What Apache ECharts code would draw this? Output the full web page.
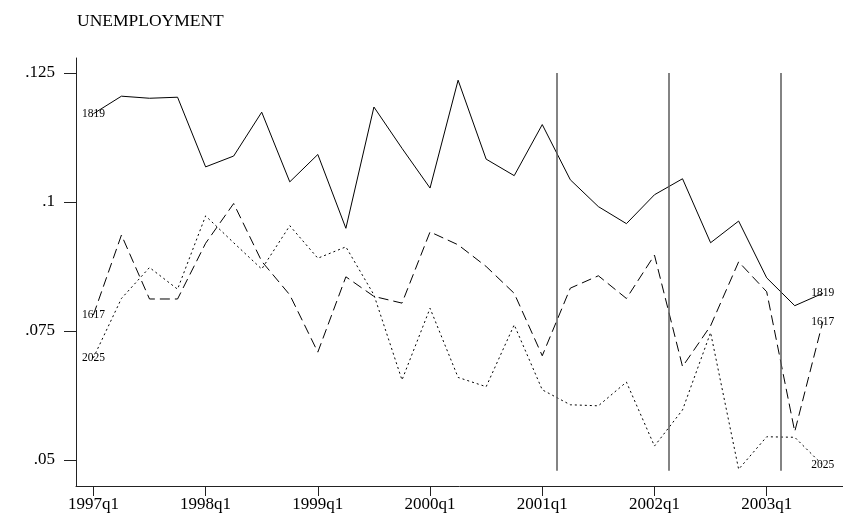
<!DOCTYPE html>
<html>
<head>
<meta charset="utf-8">
<script src="https://cdn.jsdelivr.net/npm/echarts@6/dist/echarts.min.js"></script>
<style>
  html, body { margin: 0; padding: 0; background: #fff; }
  #chart { width: 843px; height: 520px; }
</style>
</head>
<body>
<div id="chart"></div>
<script>
// Quarterly periods on the x axis (index 0 = 1997q1)
const quarters = [
  '1997q1','1997q2','1997q3','1997q4',
  '1998q1','1998q2','1998q3','1998q4',
  '1999q1','1999q2','1999q3','1999q4',
  '2000q1','2000q2','2000q3','2000q4',
  '2001q1','2001q2','2001q3','2001q4',
  '2002q1','2002q2','2002q3','2002q4',
  '2003q1','2003q2','2003q3'
];

// Unemployment rate by age group
const u1819 = [0.1171,0.1205,0.1201,0.1203,0.1068,0.1089,0.1174,0.1039,0.1092,0.0949,
               0.1184,0.1104,0.1027,0.1236,0.1083,0.1051,0.1150,0.1043,0.0991,0.0958,
               0.1014,0.1045,0.0921,0.0963,0.0853,0.0799,0.0823];
const u1617 = [0.0781,0.0936,0.0812,0.0812,0.0920,0.0997,0.0885,0.0820,0.0709,0.0855,
               0.0817,0.0804,0.0942,0.0917,0.0875,0.0823,0.0702,0.0833,0.0857,0.0813,
               0.0897,0.0681,0.0760,0.0884,0.0826,0.0555,0.0768];
const u2025 = [0.0698,0.0813,0.0873,0.0831,0.0973,0.0921,0.0870,0.0954,0.0891,0.0913,
               0.0820,0.0655,0.0794,0.0660,0.0642,0.0762,0.0636,0.0607,0.0605,0.0651,
               0.0527,0.0597,0.0747,0.0482,0.0545,0.0544,0.0490];

// Axis ticks
const xTickIndex = [0, 4, 8, 12, 16, 20, 24];
const yTickValues = [0.05, 0.075, 0.1, 0.125];
const yTickLabels = ['.05', '.075', '.1', '.125'];

// Reference lines between quarters, and their vertical extent
const refLinePos = [16.5, 20.5, 24.5];
const refLineRange = [0.0479, 0.125];

const FONT = '"Liberation Serif", "Times New Roman", serif';

function withEndLabels(values) {
  const last = values.length - 1;
  return values.map((v, i) => {
    const item = { value: [i, v] };
    if (i === 0 || i === last) {
      item.label = { show: true };
    }
    return item;
  });
}

function lineSeries(name, values, dash) {
  return {
    name: name,
    type: 'line',
    data: withEndLabels(values),
    symbol: 'circle',
    symbolSize: 0,
    showSymbol: true,
    silent: true,
    animation: false,
    lineStyle: { color: '#000', width: 1, type: dash },
    itemStyle: { color: '#000' },
    label: {
      show: false,
      position: 'inside',
      formatter: name,
      fontFamily: FONT,
      fontSize: 11.5,
      color: '#000'
    },
    labelLayout: { hideOverlap: false }
  };
}

const chart = echarts.init(document.getElementById('chart'), null, { renderer: 'canvas' });

const refLineSeries = {
  type: 'line',
  silent: true,
  animation: false,
  data: [],
  markLine: {
    silent: true,
    symbol: ['none', 'none'],
    label: { show: false },
    lineStyle: { color: '#5a5a5a', width: 1.5, type: 'solid' },
    data: refLinePos.map(x => [
      { coord: [x, refLineRange[0]] },
      { coord: [x, refLineRange[1]] }
    ])
  }
};

chart.setOption({
  backgroundColor: '#fff',
  animation: false,
  title: {
    text: 'UNEMPLOYMENT',
    left: 77,
    top: 12,
    padding: 0,
    textStyle: { fontFamily: FONT, fontSize: 17.5, fontWeight: 'normal', color: '#000' }
  },
  grid: {
    left: 76, right: 0, top: 58, bottom: 34,
    containLabel: false,
    outerBoundsMode: 'none'
  },
  xAxis: {
    type: 'value',
    min: -0.62,
    max: 26.72,
    splitLine: { show: false },
    axisLine: { show: true, onZero: false, lineStyle: { color: '#222', width: 1 } },
    axisTick: {
      show: true, length: 10, inside: false,
      customValues: xTickIndex,
      lineStyle: { color: '#222', width: 1 }
    },
    axisLabel: {
      customValues: xTickIndex,
      formatter: v => quarters[Math.round(v)],
      fontFamily: FONT, fontSize: 17, color: '#000', margin: 10
    }
  },
  yAxis: {
    type: 'value',
    min: 0.04496,
    max: 0.1279,
    splitLine: { show: false },
    axisLine: { show: true, onZero: false, lineStyle: { color: '#222', width: 1 } },
    axisTick: {
      show: true, length: 12, inside: false,
      customValues: yTickValues,
      lineStyle: { color: '#222', width: 1 }
    },
    axisLabel: {
      customValues: yTickValues,
      formatter: v => {
        const k = yTickValues.findIndex(t => Math.abs(t - v) < 1e-9);
        return k >= 0 ? yTickLabels[k] : '';
      },
      fontFamily: FONT, fontSize: 17, color: '#000', margin: 21
    }
  },
  series: [
    refLineSeries,
    lineSeries('1819', u1819, 'solid'),
    lineSeries('1617', u1617, [10, 5]),
    lineSeries('2025', u2025, [2, 3])
  ]
});
</script>
</body>
</html>
